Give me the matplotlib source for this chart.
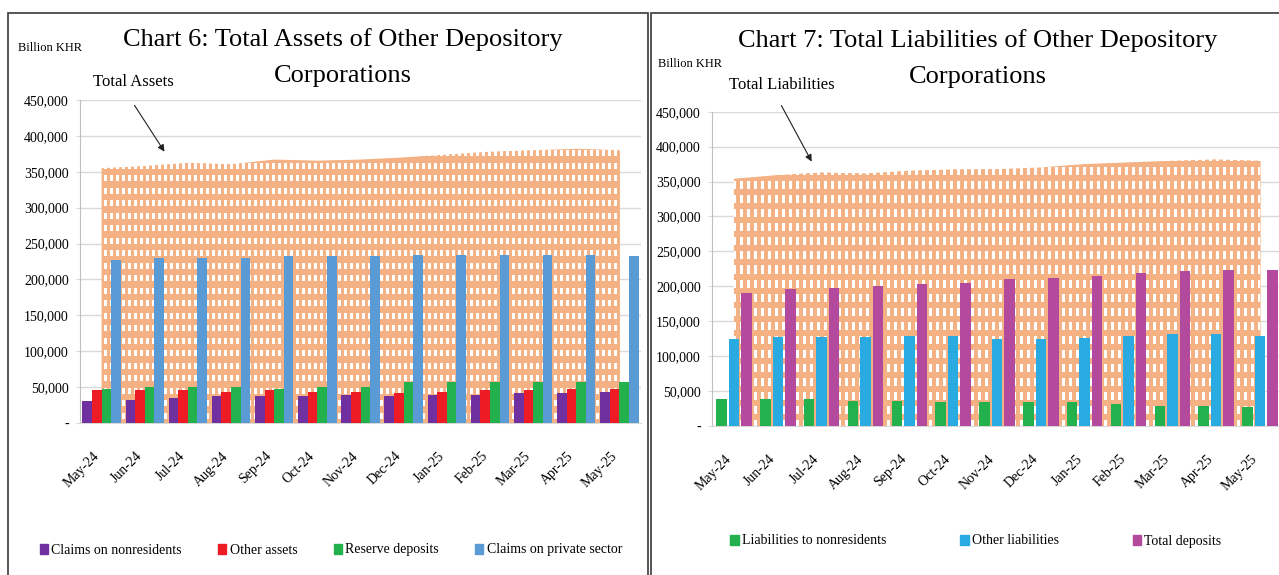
import numpy as np
import matplotlib
matplotlib.use("Agg")
import matplotlib.pyplot as plt
from matplotlib.patches import Rectangle, Patch
from matplotlib.ticker import FuncFormatter

plt.rcParams['font.family'] = ['Liberation Serif', 'DejaVu Serif']

months = ['May-24', 'Jun-24', 'Jul-24', 'Aug-24', 'Sep-24', 'Oct-24', 'Nov-24',
          'Dec-24', 'Jan-25', 'Feb-25', 'Mar-25', 'Apr-25', 'May-25']

# Chart 6 (billion KHR)
total_assets = [355000, 358000, 362500, 360500, 367000, 365500, 367000,
                370000, 374000, 378000, 380000, 382000, 380000]
claims_nonres = [30100, 32500, 34800, 37100, 37100, 37100, 39400,
                 37100, 39400, 39400, 41300, 41300, 43600]
other_assets = [45400, 45400, 45400, 43100, 45400, 43100, 43100,
                41300, 43100, 45400, 45400, 47800, 47800]
reserve_dep = [47800, 50100, 50100, 50100, 47800, 50100, 50100,
               56600, 56600, 56600, 56600, 56600, 56600]
claims_private = [227300, 229600, 229600, 229600, 232000, 232000, 232800,
                  234700, 234700, 234700, 234700, 234700, 232400]

# Chart 7 (billion KHR)
total_liab = [354000, 359300, 363000, 361600, 365500, 367400, 367800,
              370200, 375000, 377400, 379800, 381700, 379800]
liab_nonres = [38600, 38600, 38600, 36300, 36300, 33900, 33900,
               33900, 33900, 31500, 29100, 29100, 26700]
other_liab = [124000, 127000, 127000, 127000, 129300, 129300, 124000,
              124000, 126400, 128800, 131200, 131200, 128800]
total_dep = [190800, 195600, 198000, 200400, 202800, 205200, 209900,
             211800, 214200, 219000, 221400, 223800, 223800]

W, H = 1279, 575
ORANGE = np.array([244, 177, 131]) / 255


def fx(px):
    return px / W


def fy(py):
    return 1 - py / H


def pattern(w, h, px, wx, py, wy):
    img = np.ones((h, w, 3)) * ORANGE
    cols = (np.arange(w) % px) < wx
    rows = (np.arange(h) % py) < wy
    img[rows[:, None] & cols[None, :]] = 1.0
    return img


def setup_axes(ax):
    ax.set_xlim(-0.5, 12.5)
    ax.set_ylim(0, 450000)
    ax.set_yticks(np.arange(0, 450001, 50000))
    ax.yaxis.set_major_formatter(FuncFormatter(lambda v, p: '-' if v == 0 else f'{v:,.0f}'))
    ax.grid(axis='y', color='#D9D9D9', lw=1, zorder=0)
    ax.set_axisbelow(True)
    for s in ['top', 'right']:
        ax.spines[s].set_visible(False)
    ax.spines['left'].set_color('#BFBFBF')
    ax.spines['bottom'].set_color('#D9D9D9')
    ax.tick_params(axis='y', length=3, color='#D9D9D9', labelsize=10, pad=5)
    ax.tick_params(axis='x', length=0, labelsize=10, pad=19)
    ax.set_xticks(range(len(months)))
    ax.set_xticklabels(months, rotation=45, ha='right', va='top')


def draw_area(ax, values, rect, px, wx, py, wy):
    x = np.arange(len(values))
    poly = ax.fill_between(x, values, color=ORANGE, lw=0, zorder=1)
    wpx = int(round(rect[2] * W))
    hpx = int(round(rect[3] * H))
    img = pattern(wpx, hpx, px, wx, py, wy)
    im = ax.imshow(img, extent=(-0.5, 12.5, 0, 450000), aspect='auto',
                   origin='upper', interpolation='nearest', zorder=1)
    im.set_clip_path(poly.get_paths()[0], ax.transData)


fig = plt.figure(figsize=(W / 100, H / 100), dpi=100)

# panel frames
fig.add_artist(Rectangle((fx(8), -0.02), fx(640), fy(13) + 0.02, transform=fig.transFigure,
                         fill=False, ec='#3A3A3A', lw=1.2))
fig.add_artist(Rectangle((fx(651), -0.02), fx(640), fy(13) + 0.02, transform=fig.transFigure,
                         fill=False, ec='#3A3A3A', lw=1.2))

# ---- Chart 6 ----
rect1 = [fx(80), fy(423), fx(561), (423 - 100) / H]
ax1 = fig.add_axes(rect1)
draw_area(ax1, total_assets, rect1, 6, 3, 12.5, 6)
x = np.arange(len(months))
bw = 0.222
c6 = [('Claims on nonresidents', claims_nonres, '#7030A0'),
      ('Other assets', other_assets, '#ED1C24'),
      ('Reserve deposits', reserve_dep, '#22B14C'),
      ('Claims on private sector', claims_private, '#5B9BD5')]
for i, (name, vals, col) in enumerate(c6):
    ax1.bar(x + (i - 1.5) * bw, vals, bw, color=col, zorder=3, lw=0)
setup_axes(ax1)
ax1.legend([Patch(color=c) for _, _, c in c6], [n for n, _, _ in c6], ncol=4,
           loc='center', bbox_to_anchor=(fx(331), fy(550)), bbox_transform=fig.transFigure,
           frameon=False, fontsize=10, handlelength=0.6, handleheight=0.7,
           handletextpad=0.25, columnspacing=2.6)

fig.text(fx(343), fy(40), 'Chart 6: Total Assets of Other Depository', ha='center', va='center', fontsize=19)
fig.text(fx(343), fy(76), 'Corporations', ha='center', va='center', fontsize=19)
fig.text(fx(18), fy(48), 'Billion KHR', ha='left', va='center', fontsize=9)
fig.text(fx(133), fy(82), 'Total Assets', ha='center', va='center', fontsize=12)
ax1.annotate('', xy=(fx(166), fy(154)), xytext=(fx(133), fy(103)),
             xycoords='figure fraction', textcoords='figure fraction',
             arrowprops=dict(arrowstyle='-|>', color='#222222', lw=0.8, mutation_scale=10))

# ---- Chart 7 ----
rect2 = [fx(712), fy(426), fx(570), (426 - 111.7) / H]
ax2 = fig.add_axes(rect2)
draw_area(ax2, total_liab, rect2, 7, 3, 14, 7.5)
bw2 = 0.24
step = 0.285
c7 = [('Liabilities to nonresidents', liab_nonres, '#22B14C'),
      ('Other liabilities', other_liab, '#29ABE2'),
      ('Total deposits', total_dep, '#B44A9E')]
for i, (name, vals, col) in enumerate(c7):
    ax2.bar(x + (i - 1) * step, vals, bw2, color=col, zorder=3, lw=0)
setup_axes(ax2)
ax2.legend([Patch(color=c) for _, _, c in c7], [n for n, _, _ in c7], ncol=3,
           loc='center', bbox_to_anchor=(fx(976), fy(541)), bbox_transform=fig.transFigure,
           frameon=False, fontsize=10, handlelength=0.6, handleheight=0.7,
           handletextpad=0.25, columnspacing=5.3)

fig.text(fx(978), fy(41), 'Chart 7: Total Liabilities of Other Depository', ha='center', va='center', fontsize=19)
fig.text(fx(978), fy(77), 'Corporations', ha='center', va='center', fontsize=19)
fig.text(fx(658), fy(64), 'Billion KHR', ha='left', va='center', fontsize=9)
fig.text(fx(782), fy(85), 'Total Liabilities', ha='center', va='center', fontsize=12)
ax2.annotate('', xy=(fx(813), fy(164)), xytext=(fx(780), fy(103)),
             xycoords='figure fraction', textcoords='figure fraction',
             arrowprops=dict(arrowstyle='-|>', color='#222222', lw=0.8, mutation_scale=10))

fig.savefig('out.png', dpi=100)
